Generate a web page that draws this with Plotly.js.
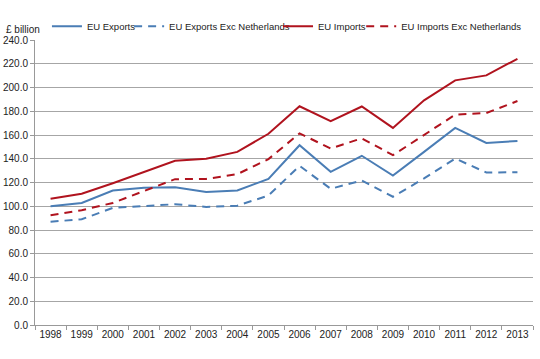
<!DOCTYPE html>
<html>
<head>
<meta charset="utf-8">
<script src="https://cdn.plot.ly/plotly-3.0.1.min.js"></script>
<style>html,body{margin:0;padding:0;background:#fff;}#chart{width:540px;height:359px;}</style>
</head>
<body>
<div id="chart"></div>
<script>
const years = ['1998','1999','2000','2001','2002','2003','2004','2005','2006','2007','2008','2009','2010','2011','2012','2013'];
const euExports = [100, 102.8, 113.3, 115.5, 116, 112, 113.3, 123, 151.4, 129, 142.5, 125.9, 145.8, 166, 153.3, 155];
const euExportsExcNL = [87, 89, 98.6, 100, 101.7, 99.4, 100.5, 109, 134, 114.7, 121.7, 108, 123.4, 140.2, 128.4, 128.7];
const euImports = [106.4, 110.6, 119.4, 128.6, 138.3, 140, 145.8, 161, 184.2, 171.7, 184, 166, 189.2, 206, 210.2, 224.2];
const euImportsExcNL = [92.5, 96.7, 102.8, 113, 122.8, 123, 127, 139.7, 161.4, 148.6, 157.2, 143, 159.8, 177.1, 178.5, 188.6];
const yTicks = [0,20,40,60,80,100,120,140,160,180,200,220,240];

const blue = '#4A7DB5';
const red = '#B0131E';

const traces = [
  {x: years, y: euExports, name: 'EU Exports', mode: 'lines', line: {color: blue, width: 2}, legend: 'legend'},
  {x: years, y: euExportsExcNL, name: 'EU Exports Exc Netherlands', mode: 'lines', line: {color: blue, width: 2, dash: '8px,6px'}, legend: 'legend2'},
  {x: years, y: euImports, name: 'EU Imports', mode: 'lines', line: {color: red, width: 2}, legend: 'legend3'},
  {x: years, y: euImportsExcNL, name: 'EU Imports Exc Netherlands', mode: 'lines', line: {color: red, width: 2, dash: '8px,6px'}, legend: 'legend4'}
];

function leg(x) {
  return {orientation: 'h', x: x, xanchor: 'left', y: 1.048, yanchor: 'middle', font: {size: 9.5, color: '#222'}, itemwidth: 30, bgcolor: 'rgba(0,0,0,0)'};
}

const layout = {
  width: 540, height: 359,
  margin: {l: 35, r: 7, t: 40, b: 34, autoexpand: false},
  paper_bgcolor: '#fff', plot_bgcolor: '#fff',
  font: {family: 'Liberation Sans, Arial, sans-serif', size: 10, color: '#222'},
  showlegend: true,
  legend: leg(0.024),
  legend2: leg(0.189),
  legend3: leg(0.488),
  legend4: leg(0.655),
  xaxis: {type: 'category', range: [-0.5, 15.5], tickson: 'boundaries', tickangle: 0, ticks: 'outside', ticklen: 4, tickcolor: '#999', showline: true, linecolor: '#999', linewidth: 1, showgrid: false, zeroline: false, tickfont: {size: 10}, fixedrange: true},
  yaxis: {range: [0, 240], tickvals: yTicks, tickformat: '.1f', ticks: 'outside', ticklen: 4, tickcolor: '#999', showline: true, linecolor: '#999', gridcolor: '#A6A6A6', gridwidth: 1, zeroline: false, tickfont: {size: 10}, fixedrange: true},
  annotations: [{text: '£ billion', xref: 'paper', yref: 'paper', x: -0.062, y: 1.038, xanchor: 'left', yanchor: 'middle', showarrow: false, font: {size: 10}}]
};

Plotly.newPlot('chart', traces, layout, {displayModeBar: false, staticPlot: true});
</script>
</body>
</html>
